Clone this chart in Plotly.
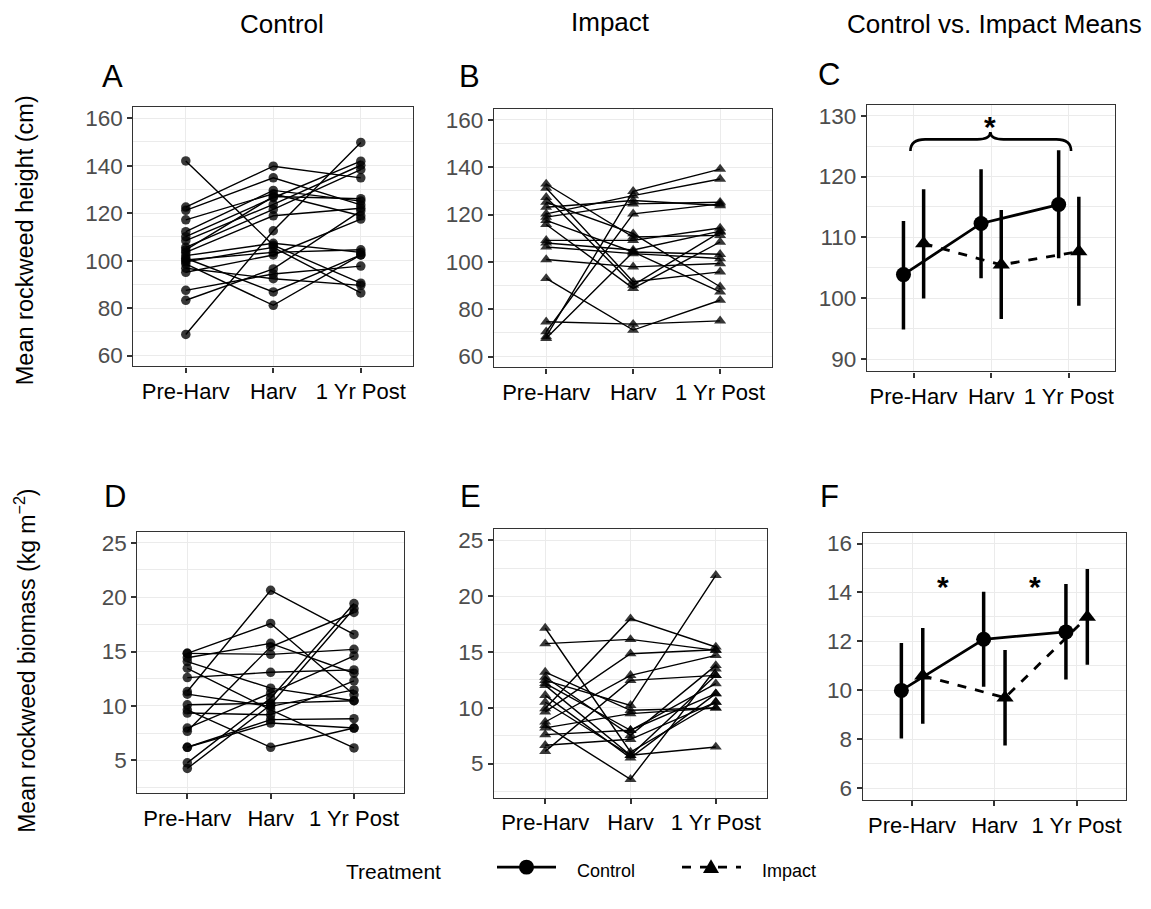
import plotly.graph_objects as go

# ---------------- data ----------------
periods = ["Pre-Harv", "Harv", "1 Yr Post"]

# Panel A: control sites, rockweed height (cm)
ctrl_h_pre  = [142.0, 122.6, 121.2, 117.2, 112.2, 110.1, 108.4, 105.6, 103.5, 102.1, 100.3, 99.5, 98.6, 96.8, 95.1, 87.5, 83.3, 68.9, 101.0, 104.5]
ctrl_h_harv = [106.5, 139.8, 134.9, 128.2, 129.6, 126.5, 123.7, 121.6, 118.9, 107.3, 103.5, 105.6, 81.2, 92.4, 102.4, 94.4, 96.5, 112.6, 86.8, 127.0]
ctrl_h_post = [90.5, 134.9, 123.5, 118.9, 125.1, 141.9, 140.2, 138.4, 122.1, 103.5, 104.6, 86.4, 102.4, 89.6, 117.5, 97.7, 121.0, 149.8, 102.4, 126.1]

# Panel B: impact sites, rockweed height (cm)
imp_h_pre  = [132.9, 131.2, 127.3, 125.2, 123.1, 120.3, 118.9, 117.5, 115.8, 109.1, 106.3, 101.0, 93.0, 74.7, 70.5, 68.4, 67.7, 108.0]
imp_h_harv = [110.5, 91.6, 90.2, 111.9, 125.9, 128.0, 124.5, 104.2, 88.8, 109.1, 103.5, 97.9, 71.2, 73.7, 120.3, 129.8, 104.2, 105.0]
imp_h_post = [111.2, 95.8, 112.6, 89.5, 123.8, 135.0, 125.2, 103.2, 108.4, 114.3, 101.4, 99.3, 83.8, 75.1, 124.5, 139.2, 87.3, 113.0]

# Panel C: means and intervals, height
ctrl_h_mean = [103.9, 112.3, 115.4]
ctrl_h_lo   = [94.9, 103.3, 106.6]
ctrl_h_hi   = [112.7, 121.2, 124.3]
imp_h_mean  = [109.0, 105.5, 107.7]
imp_h_lo    = [100.0, 96.6, 98.8]
imp_h_hi    = [117.9, 114.5, 116.7]

# Panel D: control sites, biomass (kg m-2)
ctrl_b_pre  = [14.83, 14.83, 14.43, 14.07, 13.46, 12.6, 11.32, 11.08, 10.1, 9.64, 9.34, 7.96, 7.66, 6.19, 6.19, 4.76, 4.24]
ctrl_b_harv = [14.74, 17.58, 15.75, 11.63, 9.64, 13.09, 20.63, 9.95, 10.25, 6.19, 9.18, 11.17, 15.44, 8.73, 8.42, 10.71, 10.1]
ctrl_b_post = [15.2, 11.02, 13.0, 10.47, 6.13, 13.31, 16.57, 11.47, 10.47, 7.96, 12.3, 14.59, 18.59, 8.82, 7.96, 19.41, 18.95]

# Panel E: impact sites, biomass (kg m-2)
imp_b_pre  = [17.15, 15.75, 13.2, 12.76, 12.46, 12.01, 11.12, 9.93, 9.63, 8.73, 8.43, 7.6, 6.64, 6.1, 8.2, 10.5, 12.2]
imp_b_harv = [6.04, 16.13, 9.78, 7.54, 10.22, 5.75, 5.51, 17.99, 14.85, 12.91, 3.6, 7.99, 7.18, 12.46, 9.48, 5.75, 7.99]
imp_b_post = [10.52, 15.15, 9.99, 13.8, 21.87, 12.91, 11.27, 15.45, 15.2, 14.7, 13.5, 12.16, 10.52, 12.91, 9.99, 6.49, 11.27]

# Panel F: means and intervals, biomass
ctrl_b_mean = [10.0, 12.09, 12.39]
ctrl_b_lo   = [8.03, 10.15, 10.45]
ctrl_b_hi   = [11.94, 14.03, 14.35]
imp_b_mean  = [10.6, 9.7, 13.0]
imp_b_lo    = [8.64, 7.75, 11.05]
imp_b_hi    = [12.55, 11.65, 14.96]

legend_title = "Treatment"
legend_names = ["Control", "Impact"]

# ---------------- layout helpers ----------------
W, H = 1151, 909
FONT = "Liberation Sans, Arial, Helvetica, sans-serif"
pos = list(range(1, len(periods) + 1))
DODGE = 0.13


def px(x):
    return x / W


def py(y):
    return 1 - y / H


def xdom(l, r):
    return [px(l), px(r)]


def ydom(t, b):
    return [py(b), py(t)]


fig = go.Figure()


def add_sites(pre, harv, post, xa, ya, symbol, size):
    for a, b, c in zip(pre, harv, post):
        fig.add_trace(go.Scatter(
            x=pos, y=[a, b, c], mode="lines+markers",
            xaxis=xa, yaxis=ya, showlegend=False, hoverinfo="skip",
            line=dict(color="black", width=1.4),
            marker=dict(symbol=symbol, size=size, color="rgba(0,0,0,0.78)",
                        line=dict(width=0)),
        ))


add_sites(ctrl_h_pre, ctrl_h_harv, ctrl_h_post, "x", "y", "circle", 9.5)
add_sites(imp_h_pre, imp_h_harv, imp_h_post, "x2", "y2", "triangle-up", 10.5)
add_sites(ctrl_b_pre, ctrl_b_harv, ctrl_b_post, "x4", "y4", "circle", 9.5)
add_sites(imp_b_pre, imp_b_harv, imp_b_post, "x5", "y5", "triangle-up", 10.5)


def add_means(mean, lo, hi, xa, ya, name, symbol, dash, shift):
    fig.add_trace(go.Scatter(
        x=[p + shift for p in pos], y=mean, mode="lines+markers",
        xaxis=xa, yaxis=ya, name=name, showlegend=False, hoverinfo="skip",
        line=dict(color="black", width=2.8, dash=dash),
        marker=dict(symbol=symbol, size=15, color="black", line=dict(width=0)),
        error_y=dict(type="data", symmetric=False,
                     array=[h - m for h, m in zip(hi, mean)],
                     arrayminus=[m - l for m, l in zip(mean, lo)],
                     width=0, thickness=3.5, color="black"),
    ))


add_means(ctrl_h_mean, ctrl_h_lo, ctrl_h_hi, "x3", "y3", legend_names[0], "circle", "solid", -DODGE)
add_means(imp_h_mean, imp_h_lo, imp_h_hi, "x3", "y3", legend_names[1], "triangle-up", "dash", DODGE)
add_means(ctrl_b_mean, ctrl_b_lo, ctrl_b_hi, "x6", "y6", legend_names[0], "circle", "solid", -DODGE)
add_means(imp_b_mean, imp_b_lo, imp_b_hi, "x6", "y6", legend_names[1], "triangle-up", "dash", DODGE)

GRID = "#ebebeb"


def xaxis(dom, anchor):
    return dict(domain=dom, anchor=anchor, range=[0.4, 3.6], tickmode="array",
                tickvals=pos, ticktext=periods, showgrid=True, gridcolor=GRID,
                gridwidth=1.3, zeroline=False, showline=True, mirror=True,
                linecolor="#333333", linewidth=1.2, ticks="outside", ticklen=5,
                tickwidth=1.5, tickcolor="#333333",
                tickfont=dict(size=22, color="black", family=FONT))


def yaxis(dom, anchor, rng, dtick, tick0):
    return dict(domain=dom, anchor=anchor, range=rng, dtick=dtick, tick0=tick0,
                showgrid=True, gridcolor=GRID, gridwidth=1.3, zeroline=False,
                showline=True, mirror=True, linecolor="#333333", linewidth=1.2,
                ticks="outside", ticklen=5, tickwidth=1.5, tickcolor="#333333",
                tickfont=dict(size=22.5, color="#4d4d4d", family=FONT),
                minor=dict(dtick=dtick / 2, tick0=tick0, showgrid=True,
                           gridcolor=GRID, gridwidth=0.7, ticks=""))


fig.update_layout(
    xaxis=xaxis(xdom(133.3, 413.3), "y"),
    yaxis=yaxis(ydom(106.7, 366.7), "x", [55.4, 164.6], 20, 60),
    xaxis2=xaxis(xdom(494, 772.3), "y2"),
    yaxis2=yaxis(ydom(108.3, 367.7), "x2", [55.4, 164.6], 20, 60),
    xaxis3=xaxis(xdom(867, 1115.3), "y3"),
    yaxis3=yaxis(ydom(104, 371.7), "x3", [88.0, 131.8], 10, 90),
    xaxis4=xaxis(xdom(137.3, 404), "y4"),
    yaxis4=yaxis(ydom(532.7, 795), "x4", [1.95, 26.0], 5, 5),
    xaxis5=xaxis(xdom(494, 767), "y5"),
    yaxis5=yaxis(ydom(530, 799.3), "x5", [1.95, 26.0], 5, 5),
    xaxis6=xaxis(xdom(862.7, 1126), "y6"),
    yaxis6=yaxis(ydom(533.3, 801.7), "x6", [5.52, 16.45], 2, 6),
)

# ---------------- annotations ----------------
ann = []


def txt(x, y, s, size, **kw):
    d = dict(x=px(x), y=py(y), xref="paper", yref="paper", text=s,
             showarrow=False, font=dict(size=size, color="black", family=FONT),
             xanchor="center", yanchor="middle")
    d.update(kw)
    ann.append(d)


txt(282, 23, "Control", 26)
txt(610, 21, "Impact", 26)
txt(994, 23, "Control vs. Impact Means", 26)
for lab, (lx, ly) in {"A": (112, 76), "B": (469, 76), "C": (829, 74),
                      "D": (115, 497), "E": (471, 497), "F": (829, 497)}.items():
    txt(lx, ly, lab, 31)
txt(25, 240, "Mean rockweed height (cm)", 23.5, textangle=-90)
txt(25, 662, "Mean rockweed biomass (kg m<sup>\u22122</sup>)", 23, textangle=-90)

# significance stars (data coordinates)
stars = [("x3", "y3", 1.99, 129.6), ("x6", "y6", 1.37, 14.59), ("x6", "y6", 2.5, 14.59)]
for xa, ya, sx, sy in stars:
    ann.append(dict(x=sx, y=sy, xref=xa, yref=ya, text="<b>*</b>", showarrow=False,
                    font=dict(size=30, color="black", family=FONT),
                    xanchor="center", yanchor="middle", yshift=-8))

# legend (drawn manually)
LY = 869
txt(393, 873, legend_title, 21)
txt(575, 873, legend_names[0], 18, xanchor="left")
txt(760, 873, legend_names[1], 18, xanchor="left")

fig.update_layout(annotations=ann)

# brace over panel C
fig.add_shape(type="path", xref="x3", yref="y3",
              path=("M 0.96,124.2 Q 0.96,126.1 1.15,126.1 L 1.82,126.1 "
                    "Q 1.99,126.1 1.99,127.3 Q 1.99,126.1 2.16,126.1 "
                    "L 2.84,126.1 Q 3.03,126.1 3.03,124.2"),
              line=dict(color="black", width=2.6))

# legend keys
fig.add_shape(type="line", xref="paper", yref="paper", x0=px(497), x1=px(556),
              y0=py(LY), y1=py(LY), line=dict(color="black", width=2.8))
fig.add_shape(type="circle", xref="paper", yref="paper", x0=px(519), x1=px(534),
              y0=py(LY + 7.5), y1=py(LY - 7.5), fillcolor="black",
              line=dict(color="black", width=0))
fig.add_shape(type="line", xref="paper", yref="paper", x0=px(682), x1=px(741),
              y0=py(LY), y1=py(LY), line=dict(color="black", width=2.8, dash="dash"))
fig.add_shape(type="path", xref="paper", yref="paper",
              path=f"M {px(703)},{py(LY + 6)} L {px(719)},{py(LY + 6)} L {px(711)},{py(LY - 8)} Z",
              fillcolor="black", line=dict(color="black", width=0))

fig.update_layout(
    width=W, height=H,
    margin=dict(l=0, r=0, t=0, b=0),
    paper_bgcolor="white", plot_bgcolor="white",
    font=dict(family=FONT, color="black"),
    showlegend=False,
    hovermode=False,
)

fig.write_html("out.html", config={"displayModeBar": False},
               post_script="document.body.style.margin='0';")
